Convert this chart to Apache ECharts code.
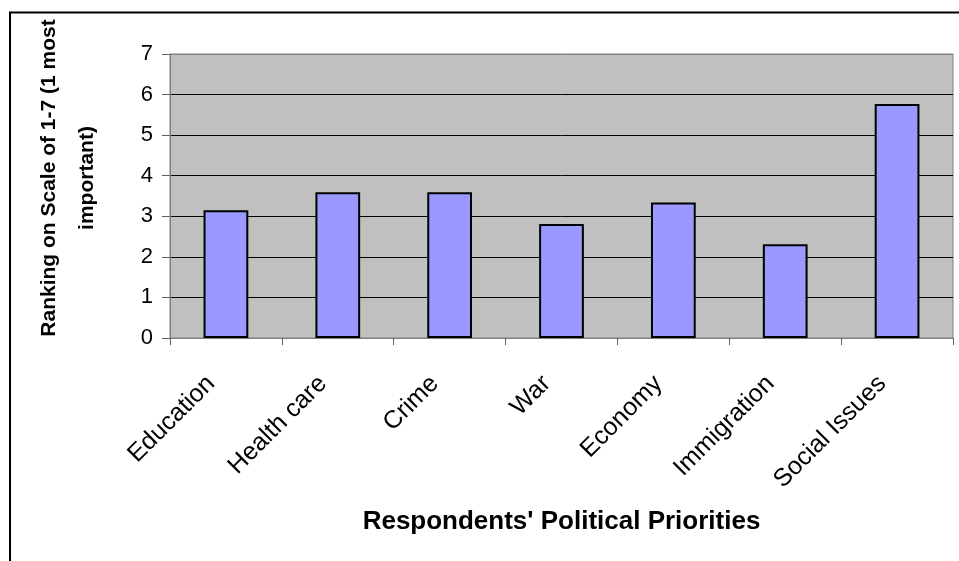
<!DOCTYPE html>
<html>
<head>
<meta charset="utf-8">
<script src="https://cdn.jsdelivr.net/npm/echarts@6/dist/echarts.min.js"></script>
<style>
  html, body { margin: 0; padding: 0; background: #ffffff; }
  #chart { width: 959px; height: 561px; }
</style>
</head>
<body>
<div id="chart"></div>
<script>
// Average ranking per political issue (1 = most important)
const categories = ['Education', 'Health care', 'Crime', 'War', 'Economy', 'Immigration', 'Social Issues'];
const rankings = [3.15, 3.59, 3.59, 2.81, 3.34, 2.31, 5.77];
const yTicks = [0, 1, 2, 3, 4, 5, 6, 7];

const FONT = "'Liberation Sans', Arial, sans-serif";

const chart = echarts.init(document.getElementById('chart'), null, { renderer: 'canvas' });

chart.setOption({
  animation: false,
  backgroundColor: '#ffffff',
  grid: {
    left: 170, right: 6, top: 54, bottom: 223,
    show: true,
    backgroundColor: '#c0c0c0',
    borderColor: '#808080',
    borderWidth: 1
  },
  xAxis: {
    type: 'category',
    data: categories,
    boundaryGap: true,
    axisLine: { lineStyle: { color: '#808080', width: 1 } },
    axisTick: { show: true, length: 7, alignWithLabel: false, lineStyle: { color: '#606060' } },
    axisLabel: {
      rotate: 45,
      interval: 0,
      margin: 27,
      padding: [0, 21, 0, 0],
      color: '#000000',
      fontFamily: FONT,
      fontSize: 25
    },
    name: "Respondents' Political Priorities",
    nameLocation: 'middle',
    nameGap: 171,
    nameTextStyle: { color: '#000000', fontFamily: FONT, fontSize: 26, fontWeight: 'bold' }
  },
  yAxis: {
    type: 'value',
    min: yTicks[0],
    max: yTicks[yTicks.length - 1],
    interval: 1,
    axisLine: { show: true, lineStyle: { color: '#808080', width: 1 } },
    axisTick: { show: true, length: 8, lineStyle: { color: '#606060' } },
    axisLabel: {
      margin: 17,
      color: '#000000',
      fontFamily: FONT,
      fontSize: 22,
      formatter: v => yTicks.includes(v) ? String(v) : ''
    },
    splitLine: {
      show: true,
      lineStyle: {
        color: ['#000000', '#000000', '#000000', '#000000', '#000000', '#000000', '#000000', '#808080'],
        width: 1
      }
    }
  },
  series: [{
    type: 'bar',
    data: rankings,
    barWidth: '40%',
    itemStyle: { color: '#9999ff', borderColor: '#000000', borderWidth: 2 }
  }],
  graphic: [
    // chart frame (left and top edges)
    { type: 'line', shape: { x1: 10, y1: 12, x2: 10, y2: 561 }, style: { stroke: '#000000', lineWidth: 2 }, z: 100 },
    { type: 'line', shape: { x1: 9, y1: 12.5, x2: 959, y2: 12.5 }, style: { stroke: '#000000', lineWidth: 2 }, z: 100 },
    // vertical axis title, two lines
    {
      type: 'text',
      x: 68, y: 178,
      rotation: Math.PI / 2,
      style: {
        text: 'Ranking on Scale of 1-7 (1 most\nimportant)',
        fill: '#000000',
        font: "bold 21px 'Liberation Sans', Arial, sans-serif",
        align: 'center',
        verticalAlign: 'middle',
        lineHeight: 38
      },
      z: 100
    }
  ]
});
</script>
</body>
</html>
